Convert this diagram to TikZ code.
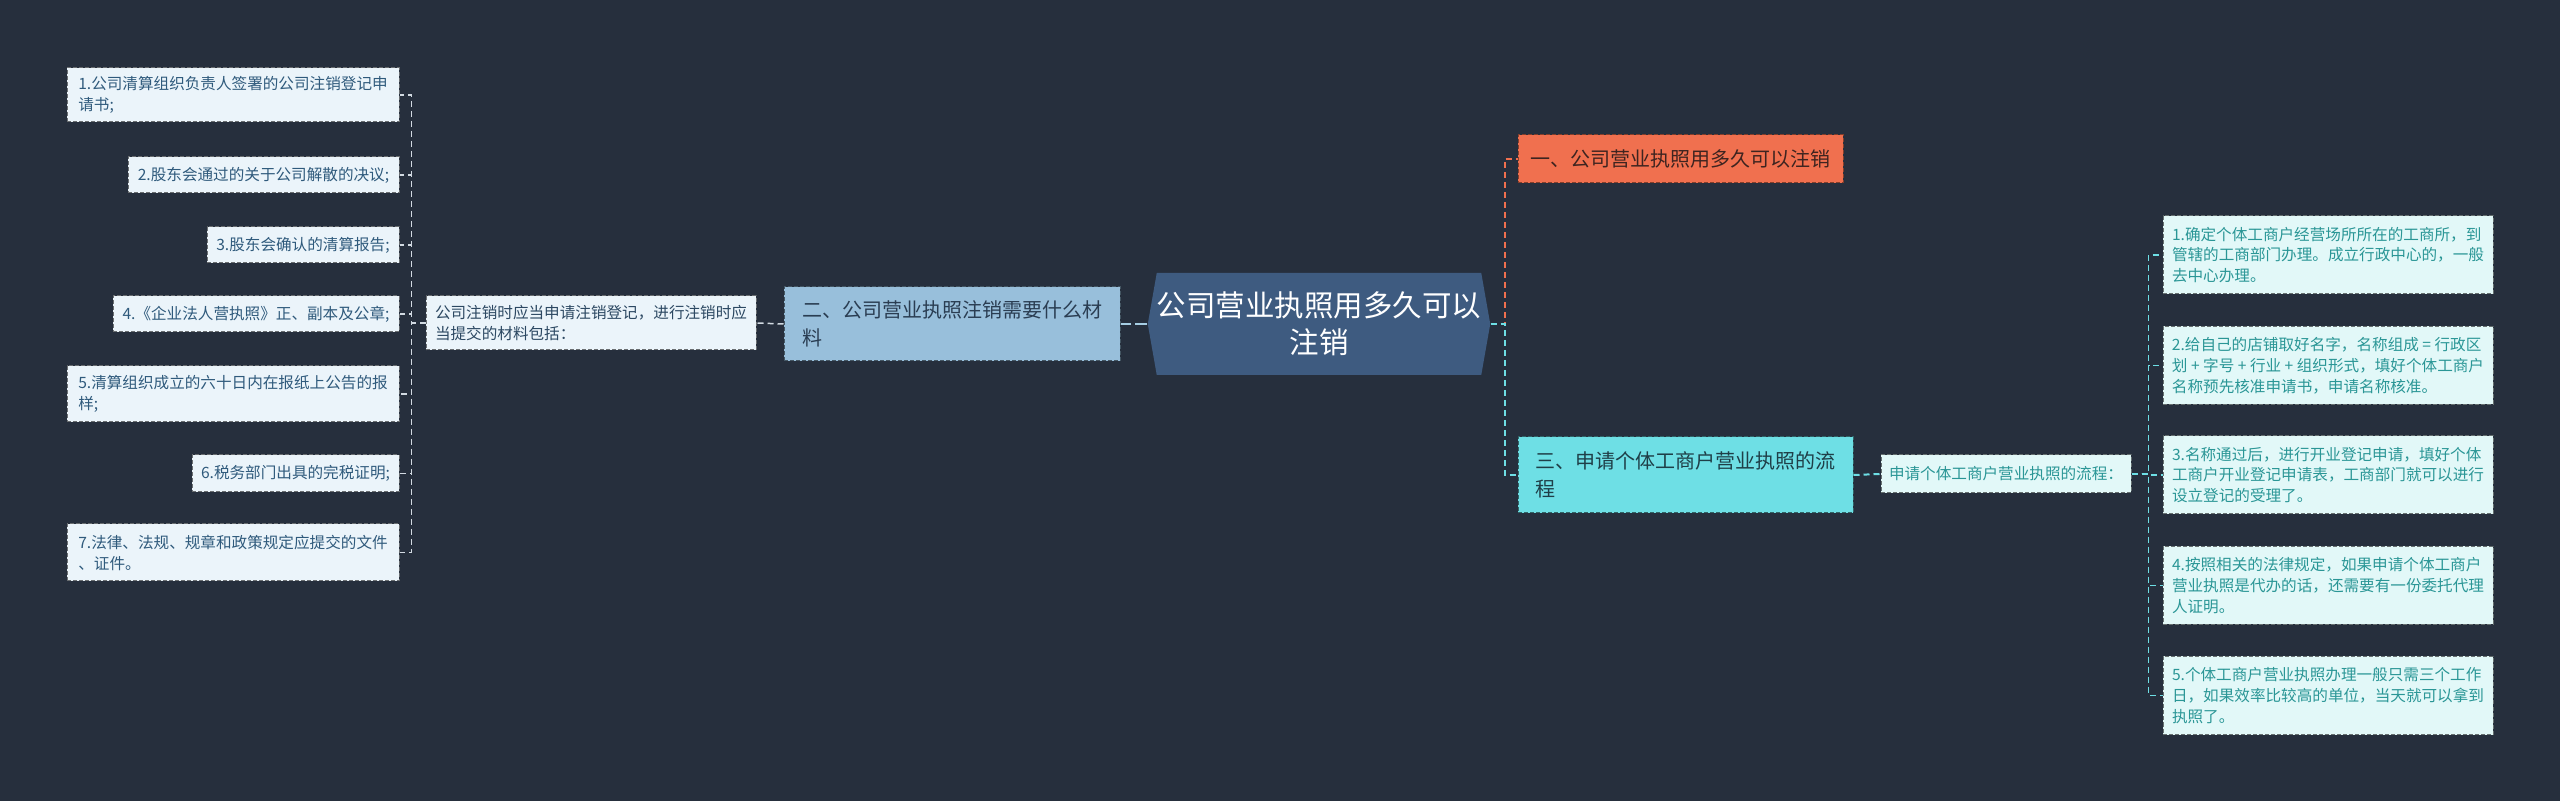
\documentclass[tikz,border=0pt]{standalone}
\usepackage{fontspec}
\setmainfont{Noto Sans CJK SC}
\usetikzlibrary{shapes.symbols}
\definecolor{bg}{HTML}{262F3D}
\definecolor{cfill}{HTML}{3E5B80}
\definecolor{corfill}{HTML}{F0704F}
\definecolor{cortext}{HTML}{3E2420}
\definecolor{cyfill}{HTML}{6EDFE5}
\definecolor{cytext}{HTML}{1F3F48}
\definecolor{bfill}{HTML}{98BFDB}
\definecolor{btext}{HTML}{2A3D52}
\definecolor{lfill}{HTML}{EBF4FA}
\definecolor{ltext}{HTML}{2F5A7C}
\definecolor{mtext}{HTML}{2C4862}
\definecolor{rfill}{HTML}{E2F8F8}
\definecolor{rtext}{HTML}{2A9696}
\definecolor{lline}{HTML}{D2DAE2}
\definecolor{bline}{HTML}{A6CEE4}
\definecolor{cyline}{HTML}{6EDFE5}
\tikzset{
  sz/.style 2 args={minimum width=#1*0.5pt, minimum height=#2*0.5pt},
  boxbase/.style={rectangle, inner sep=0pt, align=left, line width=0.5pt, dash pattern=on 2pt off 1pt},
  leafL/.style={boxbase, fill=lfill, draw=lfill!45!black, text=ltext, font=\fontsize{7.8}{10.5}\selectfont},
  midL/.style={boxbase, fill=lfill, draw=lfill!45!black, text=mtext, font=\fontsize{7.8}{10.5}\selectfont},
  leafR/.style={boxbase, fill=rfill, draw=rfill!45!black, text=rtext, font=\fontsize{7.8}{10.4}\selectfont},
  secbox/.style={boxbase, font=\fontsize{10}{14}\selectfont},
  hub/.style={signal, signal to=east and west, signal pointer angle=160, fill=cfill, draw=none, text=white, align=center, inner sep=0pt, font=\fontsize{14.75}{18.5}\selectfont},
  lconn/.style={draw=lline, line width=0.75pt, dash pattern=on 3pt off 2pt},
  bconn/.style={draw=bline, line width=1pt, dash pattern=on 6pt off 2pt},
  corconn/.style={draw=corfill, line width=1pt, dash pattern=on 3pt off 2pt},
  cyconn/.style={draw=cyline, line width=1pt, dash pattern=on 3pt off 2pt},
  cyconnthin/.style={draw=cyline, line width=0.75pt, dash pattern=on 3pt off 2pt}
}
\begin{document}
\begin{tikzpicture}[x=0.5pt,y=-0.5pt]
\path[use as bounding box, fill=bg] (0,0) rectangle (2560,801);

% hub
\node[hub, sz={342}{102}] (c) at (1319,324) {公司营业执照用多久可以\\注销};

% sections
\node[secbox, fill=corfill, draw=corfill!55!black, text=cortext, sz={325}{48}] (n1) at (1680.5,159) {一、公司营业执照用多久可以注销};
\node[secbox, fill=bfill, draw=bfill!45!black, text=btext, sz={336}{74}] (n2) at (952,324) {二、公司营业执照注销需要什么材\\料};
\node[secbox, fill=cyfill, draw=cyfill!45!black, text=cytext, sz={335}{76}] (n3) at (1685.5,475) {三、申请个体工商户营业执照的流\\程};

% left side
\node[midL, sz={330}{54}] (m) at (591,323) {公司注销时应当申请注销登记，进行注销时应\\当提交的材料包括：};
\node[leafL, sz={332}{54}] (l1) at (233,95) {1.公司清算组织负责人签署的公司注销登记申\\请书;};
\node[leafL, sz={271}{36}] (l2) at (263.5,175) {2.股东会通过的关于公司解散的决议;};
\node[leafL, sz={192}{36}] (l3) at (303,245) {3.股东会确认的清算报告;};
\node[leafL, sz={286}{36}] (l4) at (256,314) {4.《企业法人营执照》正、副本及公章;};
\node[leafL, sz={332}{56}] (l5) at (233,394) {5.清算组织成立的六十日内在报纸上公告的报\\样;};
\node[leafL, sz={207}{37}] (l6) at (295.5,473.5) {6.税务部门出具的完税证明;};
\node[leafL, sz={332}{57}] (l7) at (233,552.5) {7.法律、法规、规章和政策规定应提交的文件\\、证件。};

% right side
\node[leafR, sz={250}{38}] (s) at (2006,474) {申请个体工商户营业执照的流程：};
\node[leafR, sz={330}{78}] (r1) at (2328,255) {1.确定个体工商户经营场所所在的工商所，到\\管辖的工商部门办理。成立行政中心的，一般\\去中心办理。};
\node[leafR, sz={330}{78}] (r2) at (2328,365.5) {2.给自己的店铺取好名字，名称组成 = 行政区\\划 + 字号 + 行业 + 组织形式，填好个体工商户\\名称预先核准申请书，申请名称核准。};
\node[leafR, sz={330}{78}] (r3) at (2328,475) {3.名称通过后，进行开业登记申请，填好个体\\工商户开业登记申请表，工商部门就可以进行\\设立登记的受理了。};
\node[leafR, sz={330}{78}] (r4) at (2328,585.5) {4.按照相关的法律规定，如果申请个体工商户\\营业执照是代办的话，还需要有一份委托代理\\人证明。};
\node[leafR, sz={330}{78}] (r5) at (2328,695.5) {5.个体工商户营业执照办理一般只需三个工作\\日，如果效率比较高的单位，当天就可以拿到\\执照了。};

% connectors
\draw[bconn] (c.west) -- (n2.east);
\draw[lconn] (n2.west) -- (m.east);
\foreach \k in {l1,l2,l3,l4,l5,l6,l7}
  \draw[lconn] (m.west) -- ++(-14,0) |- (\k.east);

\draw[corconn] (c.east) -- ++(14,0) |- (n1.west);
\draw[cyconn] (c.east) -- ++(14,0) |- (n3.west);
\draw[cyconn] (n3.east) -- (s.west);
\foreach \k in {r1,r2,r3,r4,r5}
  \draw[cyconnthin] (s.east) -- ++(17,0) |- (\k.west);
\end{tikzpicture}
\end{document}
